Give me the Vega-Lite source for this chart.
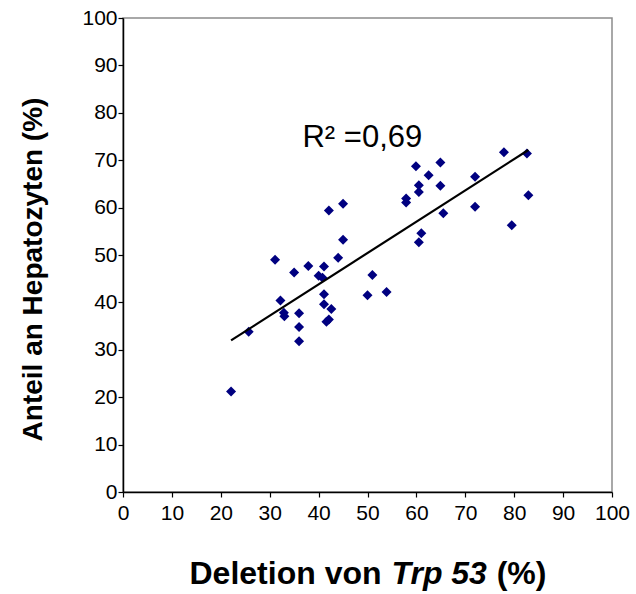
{
  "$schema": "https://vega.github.io/schema/vega-lite/v6.json",
  "width": 489,
  "height": 474,
  "autosize": "none",
  "padding": {"left": 123, "top": 18, "right": 24, "bottom": 102},
  "config": {
    "view": {"stroke": "#8c8c8c", "strokeWidth": 1.5},
    "font": "Liberation Sans",
    "axis": {"grid": false, "domainColor": "black", "domainWidth": 1.5, "tickColor": "black", "tickWidth": 1.2, "tickSize": 5, "labelColor": "black", "labelFont": "Liberation Sans", "labelOverlap": false, "labelFlush": false}
  },
  "data": {"values": [
    {"deletion": 22.1, "hepatozyten": 21.2},
    {"deletion": 25.7, "hepatozyten": 33.8},
    {"deletion": 31.1, "hepatozyten": 49.0},
    {"deletion": 32.2, "hepatozyten": 40.4},
    {"deletion": 32.9, "hepatozyten": 37.8},
    {"deletion": 33.0, "hepatozyten": 37.1},
    {"deletion": 35.0, "hepatozyten": 46.3},
    {"deletion": 36.0, "hepatozyten": 37.7},
    {"deletion": 36.0, "hepatozyten": 34.8},
    {"deletion": 36.0, "hepatozyten": 31.8},
    {"deletion": 37.9, "hepatozyten": 47.7},
    {"deletion": 40.0, "hepatozyten": 45.6},
    {"deletion": 40.8, "hepatozyten": 45.2},
    {"deletion": 41.1, "hepatozyten": 47.6},
    {"deletion": 41.1, "hepatozyten": 41.7},
    {"deletion": 41.1, "hepatozyten": 39.6},
    {"deletion": 41.6, "hepatozyten": 35.9},
    {"deletion": 42.1, "hepatozyten": 36.4},
    {"deletion": 42.6, "hepatozyten": 38.6},
    {"deletion": 42.1, "hepatozyten": 59.4},
    {"deletion": 44.0, "hepatozyten": 49.4},
    {"deletion": 45.0, "hepatozyten": 53.2},
    {"deletion": 45.0, "hepatozyten": 60.8},
    {"deletion": 50.0, "hepatozyten": 41.5},
    {"deletion": 51.0, "hepatozyten": 45.8},
    {"deletion": 53.9, "hepatozyten": 42.2},
    {"deletion": 57.9, "hepatozyten": 61.9},
    {"deletion": 57.9, "hepatozyten": 61.1},
    {"deletion": 59.9, "hepatozyten": 68.7},
    {"deletion": 60.5, "hepatozyten": 64.7},
    {"deletion": 60.5, "hepatozyten": 63.3},
    {"deletion": 61.0, "hepatozyten": 54.6},
    {"deletion": 60.5, "hepatozyten": 52.7},
    {"deletion": 62.5, "hepatozyten": 66.8},
    {"deletion": 64.9, "hepatozyten": 69.5},
    {"deletion": 64.9, "hepatozyten": 64.6},
    {"deletion": 65.5, "hepatozyten": 58.8},
    {"deletion": 72.0, "hepatozyten": 66.5},
    {"deletion": 72.0, "hepatozyten": 60.2},
    {"deletion": 77.9, "hepatozyten": 71.7},
    {"deletion": 82.6, "hepatozyten": 71.4},
    {"deletion": 82.9, "hepatozyten": 62.6},
    {"deletion": 79.5, "hepatozyten": 56.3}
  ]},
  "layer": [
    {
      "mark": {"type": "point", "shape": "diamond", "filled": true, "color": "#000080", "size": 100, "opacity": 1},
      "encoding": {
        "x": {"field": "deletion", "type": "quantitative", "scale": {"domain": [0, 100], "nice": false, "zero": false},
              "axis": {"values": [0,10,20,30,40,50,60,70,80,90,100], "title": null, "labelFontSize": 21, "labelPadding": 5}},
        "y": {"field": "hepatozyten", "type": "quantitative", "scale": {"domain": [0, 100], "nice": false, "zero": false},
              "axis": {"values": [0,10,20,30,40,50,60,70,80,90,100], "labelFontSize": 21, "labelPadding": 1,
                       "title": "Anteil an Hepatozyten (%)", "titleFontSize": 28, "titleFontWeight": "bold", "titleColor": "black",
                       "titleFont": "Liberation Sans", "titleAngle": -90, "titleAlign": "center", "titleBaseline": "alphabetic",
                       "titleX": -82, "titleY": 251}}
      }
    },
    {
      "transform": [{"regression": "hepatozyten", "on": "deletion"}],
      "mark": {"type": "line", "color": "black", "strokeWidth": 2.2},
      "encoding": {
        "x": {"field": "deletion", "type": "quantitative"},
        "y": {"field": "hepatozyten", "type": "quantitative"}
      }
    },
    {
      "data": {"values": [{"label": "R² =0,69"}]},
      "mark": {"type": "text", "align": "left", "baseline": "alphabetic", "fontSize": 31, "font": "Liberation Sans", "color": "black"},
      "encoding": {"text": {"field": "label"}, "x": {"datum": 36.7}, "y": {"datum": 72.7}}
    },
    {
      "data": {"values": [{"label": "Deletion von"}]},
      "mark": {"type": "text", "align": "left", "baseline": "alphabetic", "fontSize": 32, "fontWeight": "bold", "font": "Liberation Sans", "color": "black"},
      "encoding": {"text": {"field": "label"}, "x": {"datum": 13.6}, "y": {"datum": -19.5}}
    },
    {
      "data": {"values": [{"label": "Trp 53"}]},
      "mark": {"type": "text", "align": "left", "baseline": "alphabetic", "fontSize": 32, "fontWeight": "bold", "fontStyle": "italic", "font": "Liberation Sans", "color": "black"},
      "encoding": {"text": {"field": "label"}, "x": {"datum": 54.9}, "y": {"datum": -19.5}}
    },
    {
      "data": {"values": [{"label": "(%)"}]},
      "mark": {"type": "text", "align": "right", "baseline": "alphabetic", "fontSize": 32, "fontWeight": "bold", "font": "Liberation Sans", "color": "black"},
      "encoding": {"text": {"field": "label"}, "x": {"datum": 86.6}, "y": {"datum": -19.5}}
    }
  ]
}
